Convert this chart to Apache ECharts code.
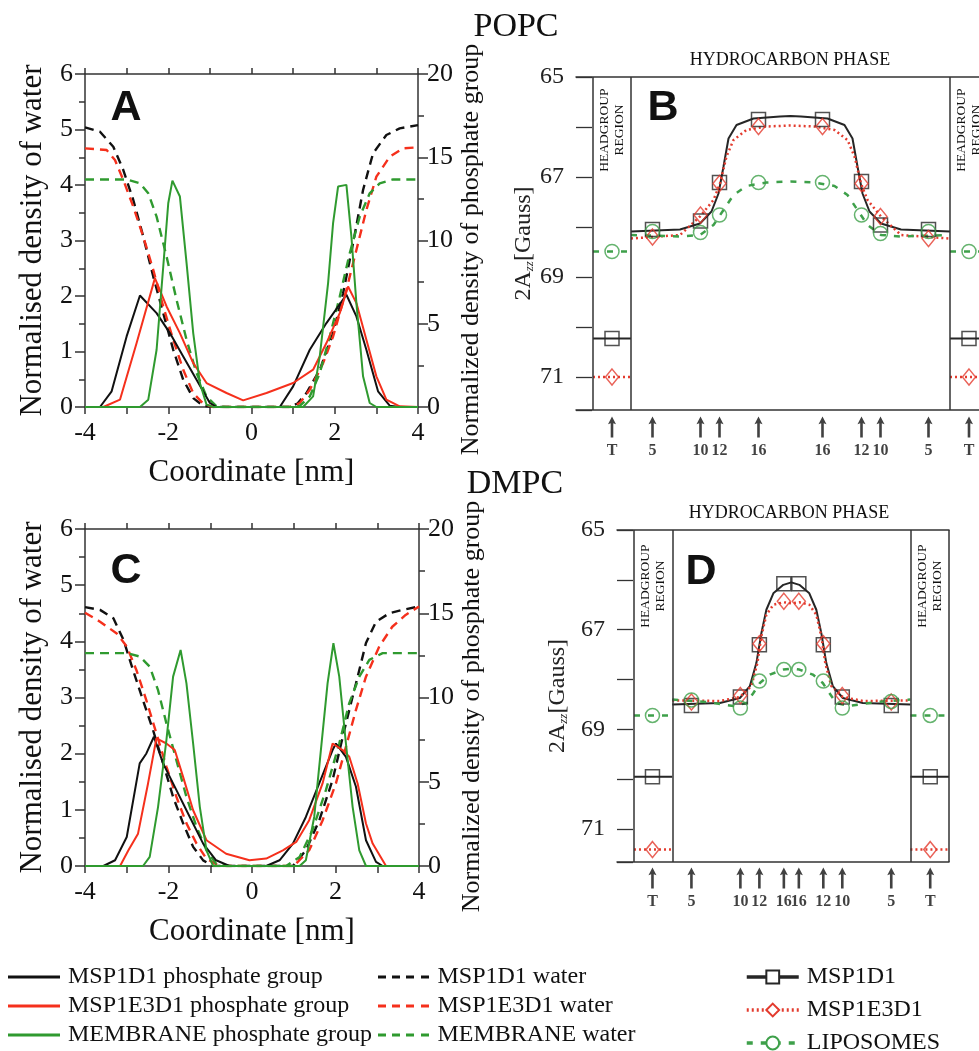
<!DOCTYPE html>
<html>
<head>
<meta charset="utf-8">
<script src="https://cdn.jsdelivr.net/npm/echarts@6/dist/echarts.min.js"></script>
<style>
  html, body { margin: 0; padding: 0; background: #fff; }
  #chart-container { width: 979px; height: 1051px; }
</style>
</head>
<body>
<div id="chart-container"></div>
<script>
// ---- Panel A (POPC) density profiles: [coordinate nm, density] ----
const aWaterMSP1D1 = [[-4,5.04],[-3.64,4.96],[-3.32,4.69],[-3.08,4.27],[-2.84,3.73],[-2.6,3.07],[-2.36,2.35],[-2.12,1.69],[-1.88,1.03],[-1.64,0.49],[-1.4,0.16],[-1.16,0.02],[-0.9,0],[0.9,0],[1.1,0.06],[1.32,0.25],[1.64,0.67],[1.96,1.33],[2.2,2.05],[2.44,2.95],[2.68,3.91],[2.92,4.57],[3.24,4.9],[3.56,5.02],[4,5.08]];
const aWaterMSP1E3D1 = [[-4,4.66],[-3.48,4.63],[-3.28,4.45],[-3.08,4.09],[-2.84,3.61],[-2.6,3.07],[-2.36,2.47],[-2.12,1.81],[-1.88,1.21],[-1.64,0.67],[-1.4,0.25],[-1.16,0.06],[-0.92,0],[0.92,0],[1.16,0.07],[1.4,0.31],[1.72,0.79],[1.96,1.27],[2.28,2.11],[2.52,2.83],[2.76,3.55],[3.0,4.15],[3.32,4.51],[3.64,4.66],[4,4.68]];
const aWaterMembrane = [[-4,4.1],[-3.0,4.1],[-2.68,4.03],[-2.48,3.85],[-2.28,3.43],[-2.04,2.71],[-1.8,1.93],[-1.56,1.21],[-1.32,0.61],[-1.08,0.19],[-0.84,0.01],[-0.6,0],[1.0,0],[1.16,0.02],[1.4,0.19],[1.64,0.61],[1.88,1.27],[2.12,1.99],[2.36,2.77],[2.6,3.43],[2.84,3.85],[3.08,4.03],[3.4,4.1],[4,4.1]];
const aPhosMSP1D1 = [[-4,0],[-3.64,0],[-3.36,0.94],[-3.0,4.24],[-2.68,6.7],[-2.28,5.64],[-1.96,4.44],[-1.64,3.04],[-1.32,1.64],[-1.0,0.24],[-0.84,0],[0.68,0],[1.0,1.24],[1.4,3.44],[1.8,5.04],[2.28,6.74],[2.52,5.44],[2.76,3.44],[3.04,0.94],[3.32,0.08],[3.56,0],[4,0]];
const aPhosMSP1E3D1 = [[-4,0],[-3.56,0],[-3.16,0.44],[-2.76,3.84],[-2.32,7.74],[-2.04,6.04],[-1.72,4.44],[-1.4,2.64],[-1.08,1.44],[-0.6,0.84],[-0.2,0.4],[0.36,0.84],[1.0,1.44],[1.48,2.24],[1.8,3.84],[2.12,5.64],[2.32,7.24],[2.52,6.24],[2.76,4.04],[3.0,1.84],[3.24,0.44],[3.56,0.04],[4,0]];
const aPhosMembrane = [[-4,0],[-2.68,0],[-2.48,0.44],[-2.28,3.44],[-2.12,8.44],[-2.0,12.24],[-1.9,13.6],[-1.72,12.64],[-1.56,8.64],[-1.4,4.44],[-1.24,1.44],[-1.08,0.14],[-0.92,0],[1.24,0],[1.48,0.64],[1.64,3.04],[1.84,7.44],[1.96,11.04],[2.08,13.24],[2.28,13.34],[2.4,10.24],[2.52,6.24],[2.68,1.84],[2.84,0.24],[3.0,0],[4,0]];

// ---- Panel C (DMPC) density profiles ----
const cWaterMSP1D1 = [[-4,4.61],[-3.64,4.56],[-3.32,4.41],[-3.08,4.03],[-2.85,3.49],[-2.61,2.95],[-2.37,2.42],[-2.13,1.83],[-1.89,1.23],[-1.65,0.76],[-1.41,0.34],[-1.17,0.1],[-0.93,0],[0.98,0],[1.29,0.28],[1.61,0.81],[1.93,1.53],[2.25,2.54],[2.49,3.25],[2.73,3.97],[2.97,4.35],[3.29,4.5],[3.6,4.56],[4,4.62]];
const cWaterMSP1E3D1 = [[-4,4.51],[-3.64,4.35],[-3.24,4.14],[-3.0,3.91],[-2.77,3.49],[-2.53,2.95],[-2.29,2.36],[-2.05,1.77],[-1.81,1.23],[-1.57,0.76],[-1.33,0.4],[-1.09,0.13],[-0.78,0],[1.0,0],[1.37,0.28],[1.69,0.81],[2.01,1.47],[2.25,2.12],[2.49,2.78],[2.73,3.37],[3.05,3.91],[3.36,4.26],[3.68,4.47],[4,4.62]];
const cWaterMembrane = [[-4,3.79],[-3.0,3.79],[-2.69,3.73],[-2.45,3.55],[-2.25,3.13],[-2.05,2.54],[-1.81,1.88],[-1.57,1.23],[-1.33,0.7],[-1.09,0.28],[-0.86,0.04],[-0.62,0],[0.82,0],[1.14,0.16],[1.45,0.64],[1.77,1.35],[2.09,2.18],[2.33,2.9],[2.57,3.37],[2.81,3.67],[3.13,3.79],[4,3.79]];
const cPhosMSP1D1 = [[-4,0],[-3.56,0],[-3.28,0.34],[-3.0,1.72],[-2.69,6.09],[-2.53,6.68],[-2.35,7.67],[-2.13,6.09],[-1.81,4.5],[-1.49,2.91],[-1.17,1.33],[-0.86,0.34],[-0.54,0],[0.34,0],[0.66,0.34],[0.98,1.33],[1.29,2.91],[1.61,4.9],[1.93,6.88],[2.01,7.27],[2.25,6.48],[2.49,4.7],[2.73,1.53],[2.97,0.24],[3.13,0],[4,0]];
const cPhosMSP1E3D1 = [[-4,0],[-3.16,0],[-2.96,0.93],[-2.73,1.92],[-2.49,4.9],[-2.29,7.57],[-2.05,7.27],[-1.85,6.88],[-1.65,5.29],[-1.41,3.31],[-1.09,1.53],[-0.62,0.73],[-0.06,0.34],[0.34,0.44],[0.74,0.93],[1.06,1.43],[1.37,2.72],[1.69,4.9],[1.93,7.27],[2.17,6.88],[2.33,6.48],[2.53,4.9],[2.73,2.52],[2.89,1.33],[3.21,0],[4,0]];
const cPhosMembrane = [[-4,0],[-2.61,0],[-2.45,0.54],[-2.25,3.51],[-2.05,7.47],[-1.89,11.24],[-1.71,12.82],[-1.57,10.84],[-1.41,7.27],[-1.25,3.51],[-1.09,0.93],[-0.93,0],[1.14,0],[1.29,0.34],[1.49,2.91],[1.65,6.88],[1.81,10.84],[1.95,13.22],[2.09,11.24],[2.25,7.27],[2.41,3.51],[2.57,0.93],[2.73,0],[4,0]];

// ---- Panel B (POPC) EPR 2Azz, positions in schematic depth units ----
const bBoxes = [-19.75, -15.95, 15.95, 19.75];
const bTPos = [-17.85, 17.85];
const bSites = [-13.8, -9.0, -7.1, -3.2, 3.2, 7.1, 9.0, 13.8];
const siteLabels = ['5', '10', '12', '16', '16', '12', '10', '5'];
const bMSP1D1 = [68.05, 67.88, 67.11, 65.85, 65.85, 67.09, 67.96, 68.05];
const bMSP1E3D1 = [68.2, 67.76, 67.13, 65.99, 65.99, 67.13, 67.79, 68.23];
const bLiposomes = [68.09, 68.11, 67.76, 67.11, 67.11, 67.76, 68.13, 68.09];
const bTMSP1D1 = 70.23, bTMSP1E3D1 = 71.0, bTLiposomes = 68.49;
const bFitMSP1D1 = [[-15.95,68.09],[-11.05,68.05],[-9.05,67.93],[-7.9,67.69],[-7.2,67.33],[-6.7,66.79],[-6.2,66.23],[-5.4,65.96],[-3.7,65.83],[-1.05,65.79],[0,65.78],[1.05,65.79],[3.7,65.83],[5.4,65.96],[6.2,66.23],[6.7,66.79],[7.2,67.33],[7.9,67.69],[9.05,67.93],[11.05,68.05],[15.95,68.09]];
const bFitMSP1E3D1 = [[-15.95,68.23],[-11.05,68.16],[-9.05,67.79],[-7.7,67.46],[-7.05,67.13],[-6.4,66.59],[-5.7,66.26],[-4.4,66.06],[-2.4,65.99],[0,65.97],[2.4,65.99],[4.4,66.06],[5.7,66.26],[6.4,66.59],[7.05,67.13],[7.7,67.46],[9.05,67.79],[11.05,68.16],[15.95,68.23]];
const bFitLiposomes = [[-15.95,68.16],[-11.05,68.19],[-9.05,68.16],[-7.7,67.96],[-6.7,67.66],[-5.7,67.36],[-4.4,67.18],[-2.4,67.11],[0,67.09],[2.4,67.11],[4.4,67.18],[5.7,67.36],[6.7,67.66],[7.7,67.96],[9.05,68.16],[11.05,68.19],[15.95,68.16]];

// ---- Panel D (DMPC) EPR 2Azz ----
const dBoxes = [-15.75, -11.92, 11.92, 15.78];
const dTPos = [-13.9, 13.9];
const dSites = [-10.0, -5.1, -3.2, -0.75, 0.75, 3.2, 5.1, 10.0];
const dMSP1D1 = [68.52, 68.35, 67.3, 66.08, 66.08, 67.3, 68.35, 68.52];
const dMSP1E3D1 = [68.45, 68.32, 67.28, 66.43, 66.43, 67.28, 68.32, 68.45];
const dLiposomes = [68.41, 68.57, 68.03, 67.8, 67.8, 68.03, 68.57, 68.44];
const dTMSP1D1 = 69.95, dTMSP1E3D1 = 71.41, dTLiposomes = 68.72;
const dFitMSP1D1 = [[-11.92,68.5],[-7.15,68.47],[-5.15,68.37],[-4.15,68.13],[-3.5,67.67],[-3.0,67.07],[-2.5,66.6],[-1.8,66.27],[-0.8,66.1],[0,66.05],[0.8,66.1],[1.8,66.27],[2.5,66.6],[3.0,67.07],[3.5,67.67],[4.15,68.13],[5.15,68.37],[7.15,68.47],[11.92,68.5]];
const dFitMSP1E3D1 = [[-11.92,68.42],[-7.15,68.43],[-5.15,68.35],[-4.0,68.13],[-3.4,67.67],[-3.0,67.13],[-2.5,66.7],[-1.8,66.5],[-0.8,66.45],[0,66.47],[0.8,66.45],[1.8,66.5],[2.5,66.7],[3.0,67.13],[3.4,67.67],[4.0,68.13],[5.15,68.35],[7.15,68.43],[11.92,68.42]];
const dFitLiposomes = [[-11.92,68.4],[-8.5,68.45],[-5.8,68.53],[-4.5,68.47],[-3.8,68.27],[-3.15,68.07],[-2.15,67.9],[-0.8,67.8],[0,67.78],[0.8,67.8],[2.15,67.9],[3.15,68.07],[3.8,68.27],[4.5,68.47],[5.8,68.53],[8.5,68.45],[11.92,68.4]];

const SERIF = "'Liberation Serif', 'DejaVu Serif', serif";
const SANS = "'Liberation Sans', Arial, sans-serif";
const INK = '#111';
const BLACK = '#111111', RED = '#f5301c', GREEN = '#2f9a2f';
const EPR_BLACK = '#262626', EPR_RED = '#e33b2e', EPR_GREEN = '#3ea04a';
const ARROW = 'path://M4,0L8,8L5.3,7L5.3,22L2.7,22L2.7,7L0,8Z';
const SOLID_ICON = 'path://M0,0H52V3H0Z';
const DASH_ICON = 'path://M0,0H8V3H0ZM14,0H22V3H14ZM28,0H36V3H28ZM43,0H51V3H43Z';

const chartDom = document.getElementById('chart-container');
const myChart = echarts.init(chartDom, null, { renderer: 'canvas' });

const axisInk = { color: '#333', width: 1.5 };
const noSplit = { show: false };

function densityAxes(grid) {
    const x = [
        {
            gridIndex: grid, type: 'value', min: -4, max: 4, interval: 2,
            name: 'Coordinate [nm]', nameLocation: 'middle', nameGap: 50,
            nameTextStyle: { fontFamily: SERIF, fontSize: 31, color: INK },
            axisLine: { onZero: false, lineStyle: axisInk },
            axisTick: { length: 7, lineStyle: axisInk },
            minorTick: { show: true, splitNumber: 2, length: 7, lineStyle: axisInk },
            axisLabel: { fontFamily: SERIF, fontSize: 26, color: INK, margin: 13 },
            splitLine: noSplit, minorSplitLine: noSplit
        },
        {
            gridIndex: grid, type: 'value', position: 'top', min: -4, max: 4, interval: 1,
            axisLine: { onZero: false, lineStyle: axisInk },
            axisTick: { length: 6, lineStyle: axisInk },
            axisLabel: { show: false }, splitLine: noSplit
        }
    ];
    const y = [
        {
            gridIndex: grid, type: 'value', min: 0, max: 6, interval: 1,
            name: 'Normalised density of water', nameLocation: 'middle', nameRotate: 90, nameGap: 37,
            nameTextStyle: { fontFamily: SERIF, fontSize: 31, color: INK },
            axisLine: { show: true, onZero: false, lineStyle: axisInk },
            axisTick: { length: 10, lineStyle: axisInk },
            minorTick: { show: true, splitNumber: 2, length: 6, lineStyle: axisInk },
            axisLabel: { fontFamily: SERIF, fontSize: 26, color: INK, margin: 12 },
            splitLine: noSplit, minorSplitLine: noSplit
        },
        {
            gridIndex: grid, type: 'value', position: 'right', min: 0, max: 20, interval: 5,
            name: 'Normalized density of phosphate group', nameLocation: 'middle', nameRotate: 90, nameGap: 40,
            nameTextStyle: { fontFamily: SERIF, fontSize: 26, color: INK, padding: [0, 18, 0, 0] },
            axisLine: { show: true, onZero: false, lineStyle: axisInk },
            axisTick: { length: 10, lineStyle: axisInk },
            minorTick: { show: true, splitNumber: 2, length: 6, lineStyle: axisInk },
            axisLabel: { fontFamily: SERIF, fontSize: 26, color: INK, margin: 9 },
            splitLine: noSplit, minorSplitLine: noSplit
        }
    ];
    return { x, y };
}

function eprAxes(grid, arrowGrid, xmin, xmax, nameGap) {
    const frameLine = { onZero: false, lineStyle: { color: '#333', width: 1.5 } };
    const x = [
        { gridIndex: grid, type: 'value', min: xmin, max: xmax, axisLine: frameLine, axisTick: { show: false }, axisLabel: { show: false }, splitLine: noSplit },
        { gridIndex: grid, type: 'value', position: 'top', min: xmin, max: xmax, axisLine: frameLine, axisTick: { show: false }, axisLabel: { show: false }, splitLine: noSplit },
        { gridIndex: arrowGrid, type: 'value', min: xmin, max: xmax, show: false }
    ];
    const y = [
        {
            gridIndex: grid, type: 'value', inverse: true, min: 65, max: 65 + 333 / 50, interval: 1,
            name: '{a|2A}{s|zz}{a|[Gauss]}', nameLocation: 'middle', nameRotate: 90, nameGap: nameGap,
            nameTextStyle: {
                fontFamily: SERIF, fontSize: 24, color: '#222',
                rich: {
                    a: { fontFamily: SERIF, fontSize: 24, color: '#222' },
                    s: { fontFamily: SERIF, fontSize: 13, fontStyle: 'italic', color: '#222', padding: [12, 0, 0, 0] }
                }
            },
            axisLine: { show: false, onZero: false },
            axisTick: { inside: true, length: 16, lineStyle: { color: '#333', width: 1.3 } },
            axisLabel: {
                fontFamily: SERIF, fontSize: 24, color: '#222', margin: 12,
                formatter: function (v) { return v % 2 === 1 ? String(v) : ''; }
            },
            splitLine: noSplit
        },
        { gridIndex: arrowGrid, type: 'value', min: 0, max: 1, show: false }
    ];
    return { x, y };
}

const A = densityAxes(0);
const B = eprAxes(1, 2, -21.45, 19.75, 39);
const C = densityAxes(3);
const D = eprAxes(4, 5, -17.45, 15.78, 47);

const xAxes = [].concat(A.x, B.x, C.x, D.x);   // A:0,1  B:2,3,4  C:5,6  D:7,8,9
const yAxes = [].concat(A.y, B.y, C.y, D.y);   // A:0,1  B:2,3    C:4,5  D:6,7

function profile(name, data, color, dashed, xi, yi) {
    return {
        type: 'line', name: name, data: data, xAxisIndex: xi, yAxisIndex: yi,
        symbol: 'none', color: color, z: 2, animation: false,
        lineStyle: { color: color, width: dashed ? 2.4 : 2, type: dashed ? [9, 6] : 'solid' }
    };
}

const eprLook = {
    'MSP1D1': { color: EPR_BLACK, line: { width: 2, type: 'solid' }, shape: 'rect', size: 14 },
    'MSP1E3D1': { color: EPR_RED, line: { width: 2.5, type: [2, 3] }, shape: 'diamond', size: [13, 16] },
    'LIPOSOMES': { color: EPR_GREEN, line: { width: 2.5, type: [6, 8] }, shape: 'circle', size: 14 }
};

function eprSeries(name, fit, sites, values, tPos, tValue, boxes, xi, yi, withBoxes) {
    const look = eprLook[name];
    const lineStyle = Object.assign({ color: look.color }, look.line);
    const fitLine = {
        type: 'line', name: name, data: fit, xAxisIndex: xi, yAxisIndex: yi,
        symbol: 'empty' + look.shape.charAt(0).toUpperCase() + look.shape.slice(1),
        showSymbol: false, color: look.color, lineStyle: lineStyle, z: 2, animation: false
    };
    if (withBoxes) {
        fitLine.markLine = {
            silent: true, symbol: ['none', 'none'], label: { show: false }, animation: false,
            lineStyle: { color: '#333', width: 1.5, type: 'solid' },
            data: boxes.map(function (b) { return { xAxis: b }; })
        };
    }
    const tLine = {
        type: 'line', name: name, xAxisIndex: xi, yAxisIndex: yi, symbol: 'none',
        color: look.color, lineStyle: lineStyle, z: 2, animation: false,
        data: [[boxes[0], tValue], [boxes[1], tValue], [0, '-'], [boxes[2], tValue], [boxes[3], tValue]]
    };
    const points = tPos.map(function (x) { return [x, tValue]; })
        .concat(sites.map(function (x, i) { return [x, values[i]]; }));
    const markers = {
        type: 'scatter', name: name, data: points, xAxisIndex: xi, yAxisIndex: yi,
        symbol: look.shape, symbolSize: look.size, z: 3, animation: false,
        itemStyle: { color: 'rgba(255,255,255,0)', borderColor: look.color, borderWidth: 1.5 }
    };
    return [fitLine, tLine, markers];
}

function arrowSeries(tPos, sites, xi, yi) {
    const data = [{ name: 'T', value: [tPos[0], 0.5] }]
        .concat(sites.map(function (x, i) { return { name: siteLabels[i], value: [x, 0.5] }; }))
        .concat([{ name: 'T', value: [tPos[1], 0.5] }]);
    return {
        type: 'scatter', data: data, xAxisIndex: xi, yAxisIndex: yi, symbol: ARROW, symbolSize: [8, 21],
        itemStyle: { color: INK }, animation: false, silent: true,
        label: { show: true, position: 'bottom', distance: 5, formatter: '{b}', fontFamily: SERIF, fontWeight: 'bold', fontSize: 16, color: INK }
    };
}

const series = [
    profile('MSP1D1 water', aWaterMSP1D1, BLACK, true, 0, 0),
    profile('MSP1E3D1 water', aWaterMSP1E3D1, RED, true, 0, 0),
    profile('MEMBRANE water', aWaterMembrane, GREEN, true, 0, 0),
    profile('MSP1D1 phosphate group', aPhosMSP1D1, BLACK, false, 0, 1),
    profile('MSP1E3D1 phosphate group', aPhosMSP1E3D1, RED, false, 0, 1),
    profile('MEMBRANE phosphate group', aPhosMembrane, GREEN, false, 0, 1),
    profile('MSP1D1 water', cWaterMSP1D1, BLACK, true, 5, 4),
    profile('MSP1E3D1 water', cWaterMSP1E3D1, RED, true, 5, 4),
    profile('MEMBRANE water', cWaterMembrane, GREEN, true, 5, 4),
    profile('MSP1D1 phosphate group', cPhosMSP1D1, BLACK, false, 5, 5),
    profile('MSP1E3D1 phosphate group', cPhosMSP1E3D1, RED, false, 5, 5),
    profile('MEMBRANE phosphate group', cPhosMembrane, GREEN, false, 5, 5)
].concat(
    eprSeries('MSP1D1', bFitMSP1D1, bSites, bMSP1D1, bTPos, bTMSP1D1, bBoxes, 2, 2, true),
    eprSeries('MSP1E3D1', bFitMSP1E3D1, bSites, bMSP1E3D1, bTPos, bTMSP1E3D1, bBoxes, 2, 2, false),
    eprSeries('LIPOSOMES', bFitLiposomes, bSites, bLiposomes, bTPos, bTLiposomes, bBoxes, 2, 2, false),
    [arrowSeries(bTPos, bSites, 4, 3)],
    eprSeries('MSP1D1', dFitMSP1D1, dSites, dMSP1D1, dTPos, dTMSP1D1, dBoxes, 7, 6, true),
    eprSeries('MSP1E3D1', dFitMSP1E3D1, dSites, dMSP1E3D1, dTPos, dTMSP1E3D1, dBoxes, 7, 6, false),
    eprSeries('LIPOSOMES', dFitLiposomes, dSites, dLiposomes, dTPos, dTLiposomes, dBoxes, 7, 6, false),
    [arrowSeries(dTPos, dSites, 9, 7)]
);

function caption(text, x, y, size, family, weight, rotate) {
    return {
        type: 'text', x: x, y: y, rotation: rotate ? Math.PI / 2 : 0, silent: true,
        style: {
            text: text, fontSize: size, fontFamily: family, fontWeight: weight || 'normal',
            fill: INK, align: 'center', verticalAlign: 'middle', lineHeight: size + 1.5
        }
    };
}

const legendText = { fontFamily: SERIF, fontSize: 24, color: INK, lineHeight: 24, padding: [0, 0, 0, 3] };

function legendColumn(left, gap, iconHeight, data) {
    return {
        left: left, top: 965, height: 100, padding: 0, orient: 'vertical',
        itemWidth: 52, itemHeight: iconHeight, itemGap: gap,
        selectedMode: false, textStyle: legendText, data: data
    };
}

const option = {
    backgroundColor: '#fff',
    animation: false,
    grid: [
        { left: 85, top: 74, width: 333, height: 333, outerBoundsMode: 'none' },
        { left: 576, top: 77, width: 412, height: 333, outerBoundsMode: 'none' },
        { left: 576, top: 416, width: 412, height: 22, outerBoundsMode: 'none' },
        { left: 85, top: 529, width: 334, height: 337, outerBoundsMode: 'none' },
        { left: 617, top: 530, width: 332, height: 332, outerBoundsMode: 'none' },
        { left: 617, top: 868, width: 332, height: 20, outerBoundsMode: 'none' }
    ],
    xAxis: xAxes,
    yAxis: yAxes,
    legend: [
        Object.assign(legendColumn(8, 5, 3, [
            { name: 'MSP1D1 phosphate group', icon: SOLID_ICON },
            { name: 'MSP1E3D1 phosphate group', icon: SOLID_ICON },
            { name: 'MEMBRANE phosphate group', icon: SOLID_ICON }
        ]), { itemStyle: { borderWidth: 0 } }),
        Object.assign(legendColumn(378, 5, 3, [
            { name: 'MSP1D1 water', icon: DASH_ICON },
            { name: 'MSP1E3D1 water', icon: DASH_ICON },
            { name: 'MEMBRANE water', icon: DASH_ICON }
        ]), { itemStyle: { borderWidth: 0 } }),
        Object.assign(legendColumn(745, 9, 16, ['MSP1D1', 'MSP1E3D1', 'LIPOSOMES']),
            { lineStyle: { width: 3.5 } })
    ],
    graphic: [
        caption('POPC', 516, 27, 34, SERIF),
        caption('DMPC', 515, 484, 34, SERIF),
        caption('A', 126, 108, 43, SANS, 'bold'),
        caption('B', 663, 108, 43, SANS, 'bold'),
        caption('C', 126, 571, 43, SANS, 'bold'),
        caption('D', 701, 572, 43, SANS, 'bold'),
        caption('HYDROCARBON PHASE', 790, 60, 18, SERIF),
        caption('HYDROCARBON PHASE', 789, 513, 18, SERIF),
        caption('HEADGROUP\nREGION', 612, 130, 13.5, SERIF, 'normal', true),
        caption('HEADGROUP\nREGION', 969, 130, 13.5, SERIF, 'normal', true),
        caption('HEADGROUP\nREGION', 653, 586, 13.5, SERIF, 'normal', true),
        caption('HEADGROUP\nREGION', 930, 586, 13.5, SERIF, 'normal', true)
    ],
    series: series
};

myChart.setOption(option);
</script>
</body>
</html>
